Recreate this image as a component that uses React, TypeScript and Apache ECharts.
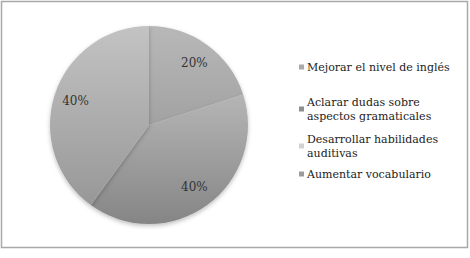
import React, { useEffect, useRef } from "react";
import * as echarts from "echarts";

const categories = [
  "Mejorar el nivel de inglés",
  "Aclarar dudas sobre aspectos gramaticales",
  "Desarrollar habilidades auditivas",
  "Aumentar vocabulario",
];
const legendLabels = [
  "Mejorar el nivel de inglés",
  "Aclarar dudas sobre\naspectos gramaticales",
  "Desarrollar habilidades\nauditivas",
  "Aumentar vocabulario",
];
const values = [20, 40, 40, 0];
const sliceTop = ["#b8b8b8", "#cfcfcf", "#c3c3c3", "#a8a8a8"];
const sliceBottom = ["#8c8c8c", "#858585", "#939393", "#8a8a8a"];
const legendColors = ["#a9a9a9", "#8f8f8f", "#d2d2d2", "#9b9b9b"];
const legendTops = [60, 88, 125, 167];

const FONT = "'DejaVu Serif', serif";

export default function App() {
  const ref = useRef<HTMLDivElement>(null);
  useEffect(() => {
    if (!ref.current) return;
    const chart = echarts.init(ref.current, undefined, { renderer: "svg" });
    const cx = 149;
    const cy = 125;
    const r = 99;
    const grad = (i: number) =>
      new echarts.graphic.LinearGradient(
        0, cy - r, 0, cy + r,
        [
          { offset: 0, color: sliceTop[i] },
          { offset: 1, color: sliceBottom[i] },
        ],
        true
      );
    const data = categories.map((name, i) => ({
      name,
      value: values[i],
      itemStyle: { color: grad(i) },
    }));
    const labelData = categories.map((name, i) => ({ name, value: values[i] }));
    const legends = categories.map((name, i) => {
      const multi = legendLabels[i].includes("\n");
      return {
        orient: "vertical",
        left: 299,
        top: legendTops[i],
        padding: 0,
        itemWidth: 5,
        itemHeight: 5,
        itemGap: 0,
        selectedMode: false,
        icon: "rect",
        data: [{ name, itemStyle: { color: legendColors[i] } }],
        formatter: () => legendLabels[i],
        textStyle: {
          fontFamily: FONT,
          fontSize: 11,
          color: "#222",
          lineHeight: 14,
          padding: multi ? [14, 0, 0, -2] : [0, 0, 0, -2],
        },
      };
    });
    chart.setOption({
      animation: false,
      backgroundColor: "#ffffff",
      graphic: [
        {
          type: "rect",
          shape: { x: 1.5, y: 1.5, width: 466, height: 246 },
          style: { fill: "none", stroke: "#a9a9a9", lineWidth: 1.5 },
          z: 100,
        },
      ],
      legend: legends,
      series: [
        {
          type: "pie",
          center: [cx, cy],
          radius: [0, r],
          startAngle: 90,
          clockwise: true,
          silent: true,
          label: { show: false },
          labelLine: { show: false },
          itemStyle: {
            borderWidth: 0,
            shadowBlur: 4,
            shadowColor: "rgba(0,0,0,0.25)",
            shadowOffsetY: 2,
          },
          data,
        },
        {
          type: "pie",
          center: [cx, cy],
          radius: [r * 0.5, r],
          startAngle: 90,
          clockwise: true,
          silent: true,
          legendHoverLink: false,
          itemStyle: { color: "rgba(0,0,0,0)", borderWidth: 0 },
          label: {
            show: true,
            position: "inside",
            fontFamily: FONT,
            fontSize: 12,
            color: "#333",
            formatter: (p: any) => (p.value > 0 ? `${p.percent}%` : ""),
          },
          labelLine: { show: false },
          data: labelData,
        },
      ],
    });
    return () => chart.dispose();
  }, []);
  return (
    <div
      ref={ref}
      style={{ position: "fixed", left: 0, top: 0, width: 470, height: 258 }}
    />
  );
}
